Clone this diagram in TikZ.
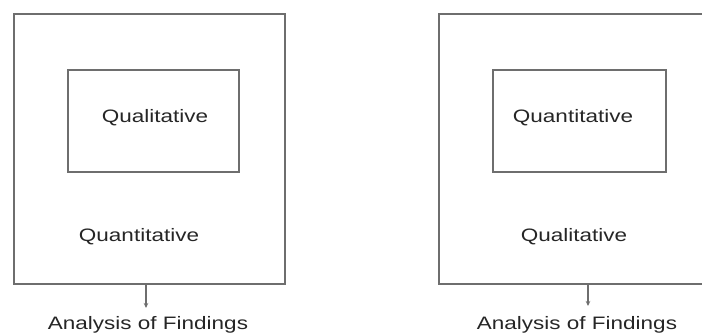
\documentclass[tikz,border=0pt]{standalone}
\usepackage{fontspec}
\setmainfont{Liberation Sans}
\usetikzlibrary{arrows.meta}
\definecolor{linegray}{HTML}{6E6E6E}
\definecolor{textgray}{HTML}{262626}
\begin{document}
\begin{tikzpicture}[x=1pt,y=-1pt,
  box/.style={draw=linegray, line width=1.3pt, rectangle, inner sep=0pt},
  lbl/.style={text=textgray, font=\fontsize{18}{21}\selectfont, inner sep=0pt, xscale=1.25, transform shape, anchor=center},
  conn/.style={draw=linegray, line width=1.2pt, -{Stealth[length=5pt,width=4.5pt]}}]
\useasboundingbox (0,0) rectangle (702,336);
\clip (0,0) rectangle (702,336);
\fill[white] (0,0) rectangle (702,336);
% left diagram
\node[box, minimum width=271pt, minimum height=270pt] (L) at (149.5,149) {};
\node[box, minimum width=171pt, minimum height=102pt] (Li) at (153.5,121) {};
\node[lbl] (Lq) at (155,118) {Qualitative};
\node[lbl] (Ln) at (139,237) {Quantitative};
\node[lbl] (La) at (148,325) {Analysis of Findings};
\coordinate (Lt) at (146,308);
\draw[conn] (L.south -| Lt) -- (Lt);
% right diagram
\node[box, minimum width=290pt, minimum height=270pt] (R) at (584,149) {};
\node[box, minimum width=173pt, minimum height=102pt] (Ri) at (579.5,121) {};
\node[lbl] (Rq) at (573,118) {Quantitative};
\node[lbl] (Rn) at (574,237) {Qualitative};
\node[lbl] (Ra) at (577,325) {Analysis of Findings};
\coordinate (Rt) at (588,306);
\draw[conn] (R.south -| Rt) -- (Rt);
\end{tikzpicture}
\end{document}
